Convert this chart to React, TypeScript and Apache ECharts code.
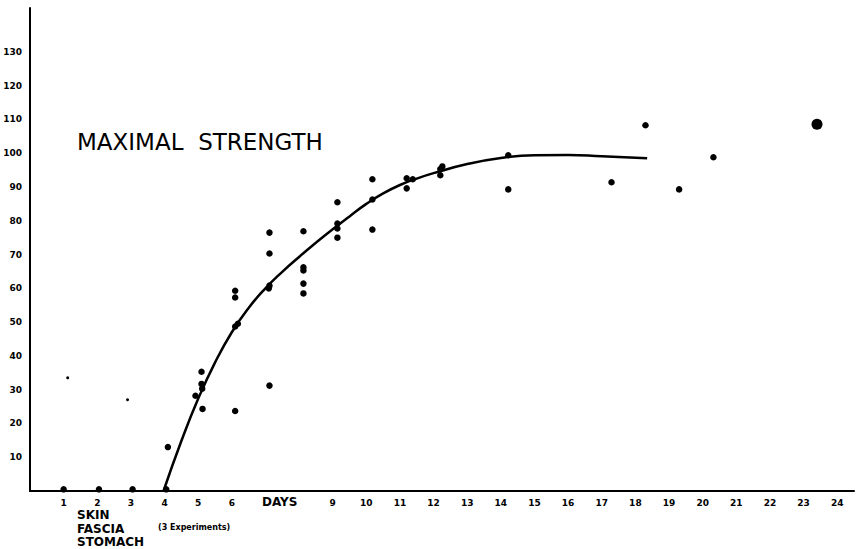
import React, { useEffect, useRef } from "react";
import * as echarts from "echarts";

// Y tick labels shown
const yTickLabels = [10, 20, 30, 40, 50, 60, 70, 80, 90, 100, 110, 120, 130];
// X tick labels shown (7 and 8 are replaced by "DAYS")
const xTickLabels = [1, 2, 3, 4, 5, 6, 9, 10, 11, 12, 13, 14, 15, 16, 17, 18, 19, 20, 21, 22, 23, 24];

// Experimental points [day, strength]
const observations: [number, number][] = [
  [1, 0.5], [2.05, 0.5], [3.05, 0.5], [4.05, 0.5],
  [4.1, 13],
  [4.92, 28.2], [5.1, 35.3], [5.1, 31.7], [5.12, 30.3], [5.13, 24.3],
  [6.1, 59.3], [6.1, 57.3], [6.1, 48.7], [6.18, 49.5], [6.1, 23.7],
  [7.12, 76.5], [7.12, 70.3], [7.12, 60.8], [7.1, 60], [7.12, 31.2],
  [8.13, 76.9], [8.13, 66.2], [8.13, 65.3], [8.13, 61.4], [8.13, 58.5],
  [9.14, 85.5], [9.14, 79.2], [9.14, 77.7], [9.14, 75],
  [10.18, 92.3], [10.18, 86.3], [10.18, 77.4],
  [11.2, 92.6], [11.38, 92.3], [11.2, 89.6],
  [12.26, 96.1], [12.2, 95.3], [12.2, 93.5],
  [14.22, 99.4], [14.22, 89.3],
  [17.29, 91.4], [18.3, 108.3], [19.3, 89.3], [20.32, 98.8],
];
// Large dot
const largePoint: [number, number][] = [[23.4, 108.6]];
// Faint small marks
const faintPoints: [number, number][] = [[1.12, 33.5], [2.9, 27]];

// Fitted curve
const curve: [number, number][] = [
  [3.97, 0], [4.5, 14.8], [5, 27.3], [5.5, 38], [6, 47], [6.5, 54.2],
  [7, 60], [7.5, 64.9], [8, 69.3], [8.5, 73.5], [9, 77.5], [9.5, 81.3],
  [10, 85], [10.5, 88.1], [11, 90.6], [11.5, 92.5], [12, 94.1], [13, 96.8],
  [14, 98.6], [15, 99.4], [16, 99.5], [17, 99.1], [18.35, 98.5],
];

const titleText = "MAXIMAL  STRENGTH";
const subLabels = ["SKIN", "FASCIA", "STOMACH"];
const noteText = "(3 Experiments)";
const axisNameText = "DAYS";

export default function App() {
  const ref = useRef<HTMLDivElement>(null);
  useEffect(() => {
    if (!ref.current) return;
    const chart = echarts.init(ref.current, null, { renderer: "svg" });
    const labelFont = "DejaVu Sans";
    chart.setOption({
      animation: false,
      backgroundColor: "#ffffff",
      grid: { left: 30, right: 6, top: 8, bottom: 58, containLabel: false },
      xAxis: {
        type: "value",
        min: 0,
        max: 24.5,
        interval: 1,
        splitLine: { show: false },
        axisLine: { show: true, onZero: false, lineStyle: { color: "#000", width: 2 } },
        axisTick: { show: false },
        axisLabel: {
          margin: 7,
          color: "#000",
          fontFamily: labelFont,
          fontWeight: "bold",
          fontSize: 9,
          showMaxLabel: false,
          formatter: (v: number) => (xTickLabels.includes(v) ? String(v) : ""),
        },
      },
      yAxis: {
        type: "value",
        min: 0,
        max: 143,
        interval: 10,
        splitLine: { show: false },
        axisLine: { show: true, onZero: false, lineStyle: { color: "#000", width: 2 } },
        axisTick: { show: false },
        axisLabel: {
          margin: 8,
          color: "#000",
          fontFamily: labelFont,
          fontWeight: "bold",
          fontSize: 9,
          showMaxLabel: false,
          formatter: (v: number) => (yTickLabels.includes(v) ? String(v) : ""),
        },
      },
      graphic: [
        {
          type: "text",
          left: 77,
          top: 130,
          style: { text: titleText, font: `23px ${labelFont}`, fill: "#000" },
        },
        {
          type: "text",
          left: 262,
          top: 496,
          style: { text: axisNameText, font: `bold 12px ${labelFont}`, fill: "#000" },
        },
        ...subLabels.map((t, i) => ({
          type: "text",
          left: 77,
          top: 509 + i * 13.5,
          style: { text: t, font: `bold 12px ${labelFont}`, fill: "#000" },
        })),
        {
          type: "text",
          left: 158,
          top: 523,
          style: { text: noteText, font: `bold 8px ${labelFont}`, fill: "#000" },
        },
      ],
      series: [
        {
          type: "line",
          data: curve,
          smooth: 0.5,
          showSymbol: false,
          lineStyle: { color: "#000", width: 2.5 },
          z: 2,
        },
        {
          type: "scatter",
          data: observations,
          symbolSize: 6.5,
          itemStyle: { color: "#000", opacity: 1 },
          z: 3,
        },
        {
          type: "scatter",
          data: largePoint,
          symbolSize: 11,
          itemStyle: { color: "#000", opacity: 1 },
          z: 3,
        },
        {
          type: "scatter",
          data: faintPoints,
          symbolSize: 3,
          itemStyle: { color: "#000", opacity: 1 },
          z: 3,
        },
      ],
    });
    return () => chart.dispose();
  }, []);
  return (
    <div
      ref={ref}
      style={{ position: "fixed", left: 0, top: 0, width: 860, height: 549 }}
    />
  );
}
